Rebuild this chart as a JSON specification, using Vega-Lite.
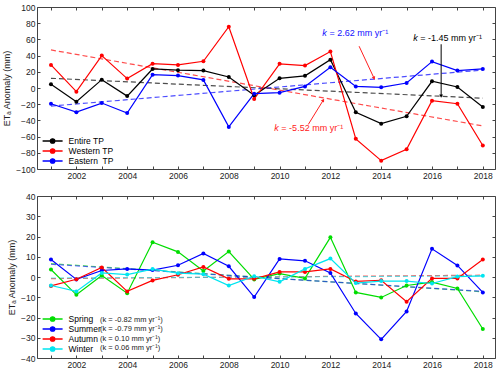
{
  "$schema": "https://vega.github.io/schema/vega-lite/v6.json",
  "padding": {"left": 2, "top": 2, "right": 5, "bottom": 0},
  "config": {
    "font": "Liberation Sans",
    "view": {"stroke": "#444", "strokeWidth": 1},
    "axis": {"domain": false, "grid": false, "tickSize": -3, "tickColor": "#444", "labelFontSize": 8.5, "labelColor": "#222", "labelPadding": 5, "titleFontWeight": "normal", "titleFontSize": 9, "titleColor": "#222"},
    "text": {"font": "Liberation Sans"}
  },
  "datasets": {
    "a": [
      {"year": 2001, "region": "Entire TP", "value": 4.5}, {"year": 2002, "region": "Entire TP", "value": -17}, {"year": 2003, "region": "Entire TP", "value": 10.3}, {"year": 2004, "region": "Entire TP", "value": -10}, {"year": 2005, "region": "Entire TP", "value": 23.5}, {"year": 2006, "region": "Entire TP", "value": 22}, {"year": 2007, "region": "Entire TP", "value": 21.5}, {"year": 2008, "region": "Entire TP", "value": 13.6}, {"year": 2009, "region": "Entire TP", "value": -9}, {"year": 2010, "region": "Entire TP", "value": 12}, {"year": 2011, "region": "Entire TP", "value": 15}, {"year": 2012, "region": "Entire TP", "value": 35}, {"year": 2013, "region": "Entire TP", "value": -30}, {"year": 2014, "region": "Entire TP", "value": -44}, {"year": 2015, "region": "Entire TP", "value": -35}, {"year": 2016, "region": "Entire TP", "value": 8.3}, {"year": 2017, "region": "Entire TP", "value": 1.2}, {"year": 2018, "region": "Entire TP", "value": -23.5},
      {"year": 2001, "region": "Western TP", "value": 28.5}, {"year": 2002, "region": "Western TP", "value": -4.5}, {"year": 2003, "region": "Western TP", "value": 40}, {"year": 2004, "region": "Western TP", "value": 11.6}, {"year": 2005, "region": "Western TP", "value": 30}, {"year": 2006, "region": "Western TP", "value": 28.5}, {"year": 2007, "region": "Western TP", "value": 33}, {"year": 2008, "region": "Western TP", "value": 75.6}, {"year": 2009, "region": "Western TP", "value": -13.6}, {"year": 2010, "region": "Western TP", "value": 29.8}, {"year": 2011, "region": "Western TP", "value": 27.7}, {"year": 2012, "region": "Western TP", "value": 45}, {"year": 2013, "region": "Western TP", "value": -62.8}, {"year": 2014, "region": "Western TP", "value": -89.7}, {"year": 2015, "region": "Western TP", "value": -75.6}, {"year": 2016, "region": "Western TP", "value": -15.7}, {"year": 2017, "region": "Western TP", "value": -19.4}, {"year": 2018, "region": "Western TP", "value": -71},
      {"year": 2001, "region": "Eastern\u00a0\u00a0TP", "value": -19.4}, {"year": 2002, "region": "Eastern\u00a0\u00a0TP", "value": -29.8}, {"year": 2003, "region": "Eastern\u00a0\u00a0TP", "value": -18.6}, {"year": 2004, "region": "Eastern\u00a0\u00a0TP", "value": -31}, {"year": 2005, "region": "Eastern\u00a0\u00a0TP", "value": 16.5}, {"year": 2006, "region": "Eastern\u00a0\u00a0TP", "value": 15.3}, {"year": 2007, "region": "Eastern\u00a0\u00a0TP", "value": 10}, {"year": 2008, "region": "Eastern\u00a0\u00a0TP", "value": -48}, {"year": 2009, "region": "Eastern\u00a0\u00a0TP", "value": -7}, {"year": 2010, "region": "Eastern\u00a0\u00a0TP", "value": -5.8}, {"year": 2011, "region": "Eastern\u00a0\u00a0TP", "value": 2}, {"year": 2012, "region": "Eastern\u00a0\u00a0TP", "value": 25.6}, {"year": 2013, "region": "Eastern\u00a0\u00a0TP", "value": 2}, {"year": 2014, "region": "Eastern\u00a0\u00a0TP", "value": 0.8}, {"year": 2015, "region": "Eastern\u00a0\u00a0TP", "value": 6.2}, {"year": 2016, "region": "Eastern\u00a0\u00a0TP", "value": 32.6}, {"year": 2017, "region": "Eastern\u00a0\u00a0TP", "value": 21.5}, {"year": 2018, "region": "Eastern\u00a0\u00a0TP", "value": 23.5}
    ],
    "trendA": [
      {"year": 2001, "region": "Entire TP", "value": 12}, {"year": 2018, "region": "Entire TP", "value": -12.6},
      {"year": 2001, "region": "Western TP", "value": 47}, {"year": 2018, "region": "Western TP", "value": -46.8},
      {"year": 2001, "region": "Eastern\u00a0\u00a0TP", "value": -22.3}, {"year": 2018, "region": "Eastern\u00a0\u00a0TP", "value": 22.2}
    ],
    "arrowsA": [
      {"id": "blue", "x": 2013.13, "y": 51.6, "x2": 2013.72, "y2": 12},
      {"id": "red", "x": 2011.13, "y": -45, "x2": 2011.72, "y2": -15},
      {"id": "black", "x": 2016.36, "y": 54, "x2": 2016.36, "y2": -10}
    ],
    "textA": [
      {"id": "blue", "label": "= 2.62 mm yr\u207b\u00b9", "kx": 2011.68, "x": 2011.96, "y": 67.8},
      {"id": "red", "label": "= -5.52 mm yr\u207b\u00b9", "kx": 2009.79, "x": 2010.07, "y": -48.8},
      {"id": "black", "label": "= -1.45 mm yr\u207b\u00b9", "kx": 2015.26, "x": 2015.54, "y": 61.6}
    ],
    "b": [
      {"year": 2001, "season": "Spring", "value": 3.7}, {"year": 2002, "season": "Spring", "value": -8.8}, {"year": 2003, "season": "Spring", "value": 0.7}, {"year": 2004, "season": "Spring", "value": -8}, {"year": 2005, "season": "Spring", "value": 17.2}, {"year": 2006, "season": "Spring", "value": 12.4}, {"year": 2007, "season": "Spring", "value": 3}, {"year": 2008, "season": "Spring", "value": 12.6}, {"year": 2009, "season": "Spring", "value": -1.2}, {"year": 2010, "season": "Spring", "value": 1.7}, {"year": 2011, "season": "Spring", "value": -0.7}, {"year": 2012, "season": "Spring", "value": 19.6}, {"year": 2013, "season": "Spring", "value": -7.6}, {"year": 2014, "season": "Spring", "value": -10.1}, {"year": 2015, "season": "Spring", "value": -4.2}, {"year": 2016, "season": "Spring", "value": -2.5}, {"year": 2017, "season": "Spring", "value": -5.7}, {"year": 2018, "season": "Spring", "value": -25.7},
      {"year": 2001, "season": "Summer", "value": 8.6}, {"year": 2002, "season": "Summer", "value": -1.2}, {"year": 2003, "season": "Summer", "value": 3.2}, {"year": 2004, "season": "Summer", "value": 4}, {"year": 2005, "season": "Summer", "value": 3.4}, {"year": 2006, "season": "Summer", "value": 5.8}, {"year": 2007, "season": "Summer", "value": 11.6}, {"year": 2008, "season": "Summer", "value": 5.3}, {"year": 2009, "season": "Summer", "value": -9.9}, {"year": 2010, "season": "Summer", "value": 8.9}, {"year": 2011, "season": "Summer", "value": 8}, {"year": 2012, "season": "Summer", "value": 2}, {"year": 2013, "season": "Summer", "value": -18}, {"year": 2014, "season": "Summer", "value": -30.8}, {"year": 2015, "season": "Summer", "value": -17}, {"year": 2016, "season": "Summer", "value": 13.9}, {"year": 2017, "season": "Summer", "value": 5.7}, {"year": 2018, "season": "Summer", "value": -7.6},
      {"year": 2001, "season": "Autumn", "value": -4.4}, {"year": 2002, "season": "Autumn", "value": -1.1}, {"year": 2003, "season": "Autumn", "value": 4.7}, {"year": 2004, "season": "Autumn", "value": -7.1}, {"year": 2005, "season": "Autumn", "value": -1.7}, {"year": 2006, "season": "Autumn", "value": 1.1}, {"year": 2007, "season": "Autumn", "value": 5}, {"year": 2008, "season": "Autumn", "value": -0.9}, {"year": 2009, "season": "Autumn", "value": -0.9}, {"year": 2010, "season": "Autumn", "value": 2.5}, {"year": 2011, "season": "Autumn", "value": 2.5}, {"year": 2012, "season": "Autumn", "value": 4}, {"year": 2013, "season": "Autumn", "value": -2.2}, {"year": 2014, "season": "Autumn", "value": -1.6}, {"year": 2015, "season": "Autumn", "value": -12.2}, {"year": 2016, "season": "Autumn", "value": -0.7}, {"year": 2017, "season": "Autumn", "value": -0.7}, {"year": 2018, "season": "Autumn", "value": 8.6},
      {"year": 2001, "season": "Winter", "value": -4.2}, {"year": 2002, "season": "Winter", "value": -7.1}, {"year": 2003, "season": "Winter", "value": 2}, {"year": 2004, "season": "Winter", "value": 1.2}, {"year": 2005, "season": "Winter", "value": 3.9}, {"year": 2006, "season": "Winter", "value": 1.9}, {"year": 2007, "season": "Winter", "value": 1.4}, {"year": 2008, "season": "Winter", "value": -4.2}, {"year": 2009, "season": "Winter", "value": 0.4}, {"year": 2010, "season": "Winter", "value": -2.4}, {"year": 2011, "season": "Winter", "value": 4}, {"year": 2012, "season": "Winter", "value": 9.1}, {"year": 2013, "season": "Winter", "value": -3}, {"year": 2014, "season": "Winter", "value": -2}, {"year": 2015, "season": "Winter", "value": -2}, {"year": 2016, "season": "Winter", "value": -3.2}, {"year": 2017, "season": "Winter", "value": 0.2}, {"year": 2018, "season": "Winter", "value": 0.6}
    ],
    "trendB": [
      {"year": 2001, "season": "Autumn", "value": -0.8}, {"year": 2018, "season": "Autumn", "value": 0.9},
      {"year": 2001, "season": "Winter", "value": -0.5}, {"year": 2018, "season": "Winter", "value": 0.5},
      {"year": 2001, "season": "Spring", "value": 6.6}, {"year": 2018, "season": "Spring", "value": -7.3},
      {"year": 2001, "season": "Summer", "value": 6.3}, {"year": 2018, "season": "Summer", "value": -7.1}
    ],
    "ktextB": [
      {"season": "Spring", "label": "(k = -0.82 mm yr\u207b\u00b9)", "x": 2002.93, "y": -21.2},
      {"season": "Summer", "label": "(k = -0.79 mm yr\u207b\u00b9)", "x": 2002.93, "y": -25.8},
      {"season": "Autumn", "label": "(k =  0.10 mm yr\u207b\u00b9)", "x": 2002.93, "y": -30.5},
      {"season": "Winter", "label": "(k =  0.06 mm yr\u207b\u00b9)", "x": 2002.93, "y": -35.1}
    ]
  },
  "resolve": {"scale": {"y": "independent", "color": "shared"}, "legend": {"color": "independent"}},
  "spacing": 11,
  "vconcat": [
    {
      "width": 458,
      "height": 162,
      "resolve": {"axis": {"x": "independent", "y": "independent"}},
      "layer": [
        {
          "mark": {"type": "rule", "color": "#9a9a9a", "strokeWidth": 1.6},
          "encoding": {"y": {"datum": 0, "type": "quantitative", "axis": null}}
        },
        {
          "data": {"name": "trendA"},
          "mark": {"type": "line", "strokeDash": [5, 3], "strokeWidth": 1.2, "opacity": 0.7},
          "encoding": {
            "x": {"field": "year", "type": "quantitative", "scale": {"domain": [2000.45, 2018.48], "nice": false, "zero": false}, "axis": {"orient": "top", "labels": false, "title": null, "values": [2001,2002,2003,2004,2005,2006,2007,2008,2009,2010,2011,2012,2013,2014,2015,2016,2017,2018]}},
            "y": {"field": "value", "type": "quantitative", "scale": {"domain": [-100, 100], "nice": false}, "axis": {"orient": "right", "labels": false, "title": null, "values": [-100,-80,-60,-40,-20,0,20,40,60,80,100]}},
            "color": {"field": "region", "type": "nominal", "scale": {"domain": ["Entire TP", "Western TP", "Eastern\u00a0\u00a0TP", "Spring", "Summer", "Autumn", "Winter"], "range": ["#000000", "#ff0000", "#0000ff", "#00dd00", "#0000ff", "#ff0000", "#00e5f0"]}}
          }
        },
        {
          "data": {"name": "a"},
          "mark": {"type": "line", "strokeWidth": 1.2, "point": {"filled": true, "size": 16}},
          "encoding": {
            "x": {"field": "year", "type": "quantitative", "axis": {"orient": "bottom", "title": null, "format": "d", "values": [2001,2002,2003,2004,2005,2006,2007,2008,2009,2010,2011,2012,2013,2014,2015,2016,2017,2018], "labelExpr": "datum.value % 2 == 0 ? datum.label : ''"}},
            "y": {"field": "value", "type": "quantitative", "axis": {"orient": "left", "title": "ET\u2090 Anomaly (mm)", "values": [-100,-80,-60,-40,-20,0,20,40,60,80,100]}},
            "color": {"field": "region", "type": "nominal", "scale": {"domain": ["Entire TP", "Western TP", "Eastern\u00a0\u00a0TP", "Spring", "Summer", "Autumn", "Winter"]}, "legend": {"values": ["Entire TP", "Western TP", "Eastern\u00a0\u00a0TP"], "orient": "none", "legendX": 10.6, "legendY": 129, "title": null, "padding": 0, "symbolType": "M-2.5,0H2.5M-0.55,0A0.55,0.55,0,1,0,0.55,0A0.55,0.55,0,1,0,-0.55,0Z", "symbolSize": 64, "symbolStrokeWidth": 1.3, "labelFontSize": 8.5, "labelOffset": 11, "rowPadding": 0, "labelColor": "#000", "encode": {"symbols": {"update": {"fill": {"scale": "color", "field": "value"}}}}}}
          }
        },
        {
          "data": {"name": "arrowsA"},
          "transform": [{"filter": "datum.id != 'black'"}],
          "mark": {"type": "rule", "color": "#ff2020", "strokeWidth": 1},
          "encoding": {"x": {"field": "x", "type": "quantitative", "axis": null}, "y": {"field": "y", "type": "quantitative", "axis": null}, "x2": {"field": "x2"}, "y2": {"field": "y2"}}
        },
        {
          "data": {"name": "arrowsA"},
          "transform": [{"filter": "datum.id == 'black'"}],
          "mark": {"type": "rule", "color": "#000", "strokeWidth": 1},
          "encoding": {"x": {"field": "x", "type": "quantitative", "axis": null}, "y": {"field": "y", "type": "quantitative", "axis": null}, "x2": {"field": "x2"}, "y2": {"field": "y2"}}
        },
        {
          "data": {"name": "arrowsA"},
          "transform": [{"filter": "datum.id == 'blue'"}],
          "mark": {"type": "point", "shape": "triangle-down", "filled": true, "color": "#ff2020", "size": 14, "angle": 335, "opacity": 1},
          "encoding": {"x": {"field": "x2", "type": "quantitative", "axis": null}, "y": {"field": "y2", "type": "quantitative", "axis": null}}
        },
        {
          "data": {"name": "arrowsA"},
          "transform": [{"filter": "datum.id == 'red'"}],
          "mark": {"type": "point", "shape": "triangle-up", "filled": true, "color": "#ff2020", "size": 14, "angle": 32, "opacity": 1},
          "encoding": {"x": {"field": "x2", "type": "quantitative", "axis": null}, "y": {"field": "y2", "type": "quantitative", "axis": null}}
        },
        {
          "data": {"name": "arrowsA"},
          "transform": [{"filter": "datum.id == 'black'"}],
          "mark": {"type": "point", "shape": "triangle-down", "filled": true, "color": "#000", "size": 14, "opacity": 1},
          "encoding": {"x": {"field": "x2", "type": "quantitative", "axis": null}, "y": {"field": "y2", "type": "quantitative", "axis": null}}
        },
        {
          "data": {"name": "textA"},
          "mark": {"type": "text", "fontSize": 9, "align": "left", "baseline": "middle", "fontStyle": "italic"},
          "encoding": {
            "x": {"field": "kx", "type": "quantitative", "axis": null},
            "y": {"field": "y", "type": "quantitative", "axis": null},
            "text": {"value": "k"},
            "color": {"condition": [{"test": "datum.id == 'blue'", "value": "#1010ff"}, {"test": "datum.id == 'red'", "value": "#ff2020"}], "value": "#000000"}
          }
        },
        {
          "data": {"name": "textA"},
          "mark": {"type": "text", "fontSize": 9, "align": "left", "baseline": "middle"},
          "encoding": {
            "x": {"field": "x", "type": "quantitative", "axis": null},
            "y": {"field": "y", "type": "quantitative", "axis": null},
            "text": {"field": "label"},
            "color": {"condition": [{"test": "datum.id == 'blue'", "value": "#1010ff"}, {"test": "datum.id == 'red'", "value": "#ff2020"}], "value": "#000000"}
          }
        },
        {
          "mark": {"type": "text", "fontSize": 9, "align": "left", "baseline": "middle", "color": "#000"},
          "encoding": {"x": {"datum": 2000.85, "type": "quantitative", "axis": null}, "y": {"datum": 85, "type": "quantitative", "axis": null}, "text": {"value": "(a)"}}
        }
      ]
    },
    {
      "width": 458,
      "height": 162,
      "resolve": {"axis": {"x": "independent", "y": "independent"}},
      "layer": [
        {
          "mark": {"type": "rule", "color": "#9a9a9a", "strokeWidth": 1.6},
          "encoding": {"y": {"datum": 0, "type": "quantitative", "axis": null}}
        },
        {
          "data": {"name": "trendB"},
          "mark": {"type": "line", "strokeDash": [5, 3], "strokeWidth": 1.2, "opacity": 0.6},
          "encoding": {
            "x": {"field": "year", "type": "quantitative", "scale": {"domain": [2000.45, 2018.48], "nice": false, "zero": false}, "axis": {"orient": "top", "labels": false, "title": null, "values": [2001,2002,2003,2004,2005,2006,2007,2008,2009,2010,2011,2012,2013,2014,2015,2016,2017,2018]}},
            "y": {"field": "value", "type": "quantitative", "scale": {"domain": [-40, 40], "nice": false}, "axis": {"orient": "right", "labels": false, "title": null, "values": [-40,-30,-20,-10,0,10,20,30,40]}},
            "color": {"field": "season", "type": "nominal", "scale": {"domain": ["Entire TP", "Western TP", "Eastern\u00a0\u00a0TP", "Spring", "Summer", "Autumn", "Winter"]}}
          }
        },
        {
          "data": {"name": "b"},
          "mark": {"type": "line", "strokeWidth": 1.2, "point": {"filled": true, "size": 16}},
          "encoding": {
            "x": {"field": "year", "type": "quantitative", "axis": {"orient": "bottom", "title": null, "format": "d", "values": [2001,2002,2003,2004,2005,2006,2007,2008,2009,2010,2011,2012,2013,2014,2015,2016,2017,2018], "labelExpr": "datum.value % 2 == 0 ? datum.label : ''"}},
            "y": {"field": "value", "type": "quantitative", "axis": {"orient": "left", "title": "ET\u2090 Anomaly (mm)", "values": [-40,-30,-20,-10,0,10,20,30,40]}},
            "color": {"field": "season", "type": "nominal", "scale": {"domain": ["Entire TP", "Western TP", "Eastern\u00a0\u00a0TP", "Spring", "Summer", "Autumn", "Winter"]}, "legend": {"values": ["Spring", "Summer", "Autumn", "Winter"], "orient": "none", "legendX": 10.6, "legendY": 118, "title": null, "padding": 0, "symbolType": "M-2.5,0H2.5M-0.55,0A0.55,0.55,0,1,0,0.55,0A0.55,0.55,0,1,0,-0.55,0Z", "symbolSize": 64, "symbolStrokeWidth": 1.3, "labelFontSize": 8.5, "labelOffset": 11, "rowPadding": -0.5, "labelColor": "#000", "encode": {"symbols": {"update": {"fill": {"scale": "color", "field": "value"}}}}}}
          }
        },
        {
          "data": {"name": "ktextB"},
          "mark": {"type": "text", "fontSize": 7.5, "align": "left", "baseline": "middle", "color": "#222"},
          "encoding": {
            "x": {"field": "x", "type": "quantitative", "axis": null},
            "y": {"field": "y", "type": "quantitative", "axis": null},
            "text": {"field": "label"}
          }
        },
        {
          "mark": {"type": "text", "fontSize": 9, "align": "left", "baseline": "middle", "color": "#000"},
          "encoding": {"x": {"datum": 2000.85, "type": "quantitative", "axis": null}, "y": {"datum": 33, "type": "quantitative", "axis": null}, "text": {"value": "(b)"}}
        }
      ]
    }
  ]
}
